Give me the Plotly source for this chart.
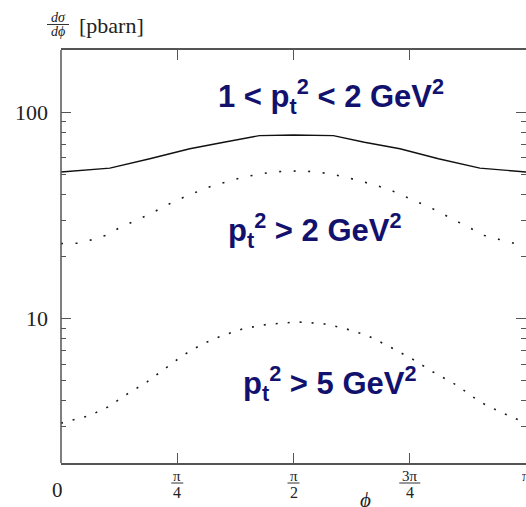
import math
import plotly.graph_objects as go

PI = math.pi

# Azimuthal distributions dsigma/dphi [pbarn] for three pt^2 cuts
phi_a = [0.0, 0.33, 0.60, 0.87, 1.10, 1.34, 1.57, 1.84, 2.05, 2.29, 2.55, 2.83, PI]
sig_a = [51.3, 53.6, 59.5, 66.5, 71.5, 77.0, 77.5, 77.0, 71.5, 66.5, 59.5, 53.6, 51.3]  # 1 < pt^2 < 2 GeV^2

phi_b = [0.0, 0.11, 0.21, 0.30, 0.39, 0.49, 0.58, 0.67, 0.76, 0.85, 0.95, 1.03, 1.13,
         1.23, 1.33, 1.43, 1.53, 1.63, 1.73, 1.83, 1.93, 2.03, 2.13, 2.23, 2.32, 2.41,
         2.51, 2.60, 2.69, 2.77, 2.86, 2.96, 3.06, PI]
sig_b = [23.1, 23.2, 24.1, 25.3, 27.4, 29.5, 31.6, 34.1, 36.8, 39.3, 41.8, 44.2, 46.2,
         48.5, 49.9, 51.3, 51.8, 51.9, 51.3, 50.1, 48.3, 46.2, 44.2, 41.8, 39.3, 36.7,
         34.1, 31.6, 29.1, 27.2, 25.3, 24.2, 23.2, 23.0]  # pt^2 > 2 GeV^2

phi_c = [0.0, 0.196, 0.318, 0.453, 0.581, 0.703, 0.824, 0.959, 1.095, 1.23, 1.392,
         1.595, 1.77, 1.905, 2.068, 2.223, 2.378, 2.514, 2.676, 2.831, 2.966, PI]
sig_c = [3.12, 3.40, 3.74, 4.34, 4.94, 5.73, 6.64, 7.57, 8.30, 8.94, 9.38,
         9.64, 9.46, 9.02, 8.30, 7.30, 6.35, 5.52, 4.75, 3.95, 3.54, 3.12]  # pt^2 > 5 GeV^2

x_ticks = [0, PI / 4, PI / 2, 3 * PI / 4, PI]
x_num = ["", "π", "π", "3π", "π"]
x_den = ["", "4", "2", "4", ""]
y_major = [10, 100]
y_minor = [3, 4, 5, 6, 7, 8, 9, 20, 30, 40, 50, 60, 70, 80, 90]

labels = ["1 &lt; p<sub>t</sub><sup>2</sup> &lt; 2 GeV<sup>2</sup>",
          "p<sub>t</sub><sup>2</sup> &gt; 2 GeV<sup>2</sup>",
          "p<sub>t</sub><sup>2</sup> &gt; 5 GeV<sup>2</sup>"]

W, H = 526, 507
L, R, T, B = 61, 526, 50, 463
AXC = "#555555"
NAVY = "#12126e"
SERIF = "Liberation Serif, DejaVu Serif, serif"


def px(xp):
    return (xp - L) / (R - L)


def py(yp):
    return (B - yp) / (B - T)


def note(xp, yp, text, size, family=SERIF, color="#222", xanchor="center"):
    return dict(x=px(xp), y=py(yp), xref="paper", yref="paper", text=text,
                showarrow=False, font=dict(family=family, size=size, color=color),
                xanchor=xanchor, yanchor="middle")


def hbar(x0, x1, yp):
    return dict(type="line", xref="paper", yref="paper",
                x0=px(x0), x1=px(x1), y0=py(yp), y1=py(yp),
                line=dict(color="#333", width=1))


fig = go.Figure()
fig.add_trace(go.Scatter(x=phi_a, y=sig_a, mode="lines",
                         line=dict(color="#111111", width=1.4)))
fig.add_trace(go.Scatter(x=phi_b, y=sig_b, mode="lines",
                         line=dict(color="#1a1a1a", width=1.6, dash="2px,12.5px")))
fig.add_trace(go.Scatter(x=phi_c, y=sig_c, mode="lines",
                         line=dict(color="#1a1a1a", width=1.6, dash="2px,10px")))

annotations = []
shapes = []

# x tick labels as stacked fractions
for xv, num, den in zip(x_ticks, x_num, x_den):
    xpix = L + xv / PI * (R - L)
    if xv == 0:
        annotations.append(note(57, 490, "0", 21))
        continue
    annotations.append(note(xpix, 476, num, 15))
    if den:
        annotations.append(note(xpix, 492, den, 16))
        half = 6 if len(num) == 1 else 10.5
        shapes.append(hbar(xpix - half, xpix + half, 483))

# axis title phi
annotations.append(note(365, 500, "<i>ϕ</i>", 21))

# y title  dσ/dϕ [pbarn]
annotations.append(note(58, 17, "<i>dσ</i>", 14))
annotations.append(note(58, 32, "<i>dϕ</i>", 14))
shapes.append(hbar(47, 69, 24.5))
annotations.append(note(77, 25, "[pbarn]", 22, xanchor="left"))

# left frame edge (the right edge lies at the window border)
shapes.append(dict(type="line", xref="paper", yref="paper", x0=0, x1=0, y0=0, y1=1,
                   line=dict(color=AXC, width=1.5)))

# curve labels
label_pos = [(331, 97), (315, 230), (330, 383)]
for txt, (lx, ly) in zip(labels, label_pos):
    annotations.append(note(lx, ly, "<b>" + txt + "</b>", 31,
                            family="Liberation Sans, Arial, sans-serif", color=NAVY))

fig.update_layout(
    width=W, height=H,
    margin=dict(l=L, r=W - R, t=T, b=H - B),
    paper_bgcolor="white", plot_bgcolor="white",
    showlegend=False,
    annotations=annotations,
    shapes=shapes,
    xaxis=dict(range=[0, PI], tickvals=x_ticks, showticklabels=False,
               ticks="inside", ticklen=10, tickwidth=1.3, tickcolor=AXC,
               showline=True, linecolor=AXC, linewidth=1.5, mirror="ticks",
               showgrid=False, zeroline=False),
    yaxis=dict(type="log", range=[math.log10(2), math.log10(200)],
               tickvals=y_major, ticktext=[str(v) for v in y_major],
               ticks="inside", ticklen=10, tickwidth=1.3, tickcolor=AXC,
               minor=dict(tickvals=y_minor, ticks="inside", ticklen=5,
                          tickwidth=1.3, tickcolor=AXC, showgrid=False),
               showline=False, mirror="ticks", ticklabelstandoff=12,
               showgrid=False, zeroline=False,
               tickfont=dict(family=SERIF, size=22, color="#222")),
)

fig.write_html("out.html")
